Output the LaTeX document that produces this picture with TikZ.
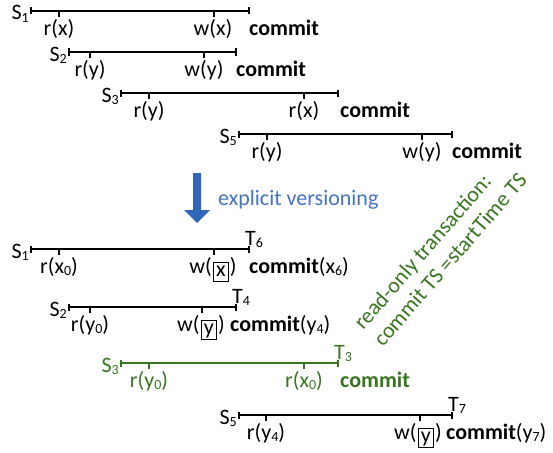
\documentclass[tikz,border=0pt]{standalone}
\usepackage{fontspec}
\setmainfont{Carlito}
\definecolor{grn}{RGB}{56,118,29}
\definecolor{bluetxt}{RGB}{68,114,196}
\definecolor{bluearr}{RGB}{46,103,187}
\newcommand{\sub}[1]{\raisebox{-2pt}{\fontsize{14}{14}\selectfont #1}}
\newcommand{\bx}[1]{\hspace{1pt}{\setlength{\fboxsep}{2.5pt}\setlength{\fboxrule}{0.8pt}\fbox{\raisebox{-3pt}[8pt][5pt]{#1}}}\hspace{1pt}}
% timeline: name, y, xstart, xend, tick a, tick b
\newcommand{\tline}[6]{%
  \coordinate (#1s) at (#3,#2);
  \coordinate (#1e) at (#4,#2);
  \coordinate (#1a) at (#5,#2);
  \coordinate (#1b) at (#6,#2);
  \draw[tlin] (#1s) -- (#1e);
  \draw[tlin] ([yshift=-3.5pt]#1s) -- ([yshift=3.5pt]#1s);
  \draw[tlin] ([yshift=-3.5pt]#1e) -- ([yshift=3.5pt]#1e);
  \draw[tlin] (#1a) -- ([yshift=-6pt]#1a);
  \draw[tlin] (#1b) -- ([yshift=-6pt]#1b);
}
\begin{document}
\begin{tikzpicture}[x=1pt,y=-1pt,
  font=\fontsize{22}{26}\selectfont,
  tlin/.style={line width=1.3pt},
  slab/.style={anchor=base east, inner sep=0pt},
  labx/.style={anchor=base, inner sep=0pt},
  cmtx/.style={anchor=base west, inner sep=0pt},
  tlabx/.style={anchor=base west, inner sep=0pt}]
\useasboundingbox (0,0) rectangle (553,452);

% ---------- top ----------
\tline{a1}{11}{31}{249}{59}{214}
\node[slab] (a1S) at (29,20) {S\sub{1}};
\node[labx] (a1r) at (59,35) {r(x)};
\node[labx] (a1w) at (213,35) {w(x)};
\node[cmtx] (a1c) at (249,35) {\textbf{commit}};

\tline{a2}{52}{69}{236}{90}{204}
\node[slab] (a2S) at (67,61) {S\sub{2}};
\node[labx] (a2r) at (90,76) {r(y)};
\node[labx] (a2w) at (204,76) {w(y)};
\node[cmtx] (a2c) at (236,76) {\textbf{commit}};

\tline{a3}{93}{121}{338}{149}{304}
\node[slab] (a3S) at (119,102) {S\sub{3}};
\node[labx] (a3r) at (149,117) {r(y)};
\node[labx] (a3x) at (304,117) {r(x)};
\node[cmtx] (a3c) at (340,117) {\textbf{commit}};

\tline{a5}{134}{239}{452}{267}{422}
\node[slab] (a5S) at (237,143) {S\sub{5}};
\node[labx] (a5r) at (267,158) {r(y)};
\node[labx] (a5w) at (422,158) {w(y)};
\node[cmtx] (a5c) at (452,158) {\textbf{commit}};

% ---------- arrow ----------
\fill[bluearr] (193,173) -- (201,173) -- (201,210) -- (210,210) -- (197,223) -- (184,210) -- (193,210) -- cycle;
\node[anchor=base west, inner sep=0pt, text=bluetxt] (ev) at (218,205) {explicit versioning};

% ---------- bottom ----------
\tline{b1}{249}{31}{249}{59}{214}
\node[slab] (b1S) at (29,258) {S\sub{1}};
\node[tlabx] (b1T) at (245,245) {T\sub{6}};
\node[labx] (b1r) at (59,273) {r(x\sub{0})};
\node[labx] (b1w) at (213,273) {w(\bx{x})};
\node[cmtx] (b1c) at (249,273) {\textbf{commit}(x\sub{6})};

\tline{b2}{307}{69}{236}{90}{202}
\node[slab] (b2S) at (67,316) {S\sub{2}};
\node[tlabx] (b2T) at (232,303) {T\sub{4}};
\node[labx] (b2r) at (90,331) {r(y\sub{0})};
\node[labx] (b2w) at (201,331) {w(\bx{y})};
\node[cmtx] (b2c) at (230,331) {\textbf{commit}(y\sub{4})};

\begin{scope}[color=grn]
\tline{b3}{363}{121}{338}{149}{304}
\node[slab] (b3S) at (119,372) {S\sub{3}};
\node[tlabx] (b3T) at (334,359) {T\sub{3}};
\node[labx] (b3r) at (149,387) {r(y\sub{0})};
\node[labx] (b3x) at (304,387) {r(x\sub{0})};
\node[cmtx] (b3c) at (340,387) {\textbf{commit}};
\end{scope}

\tline{b5}{415}{239}{452}{266}{420}
\node[slab] (b5S) at (237,424) {S\sub{5}};
\node[tlabx] (b5T) at (448,411) {T\sub{7}};
\node[labx] (b5r) at (266,439) {r(y\sub{4})};
\node[labx] (b5w) at (418,439) {w(\bx{y})};
\node[cmtx] (b5c) at (446,439) {\textbf{commit}(y\sub{7})};

% ---------- note ----------
\node[text=grn, rotate=49, align=left, inner sep=0pt] (note) at (440,251)
  {read-only transaction:\\commit TS =startTime TS};
\end{tikzpicture}
\end{document}
